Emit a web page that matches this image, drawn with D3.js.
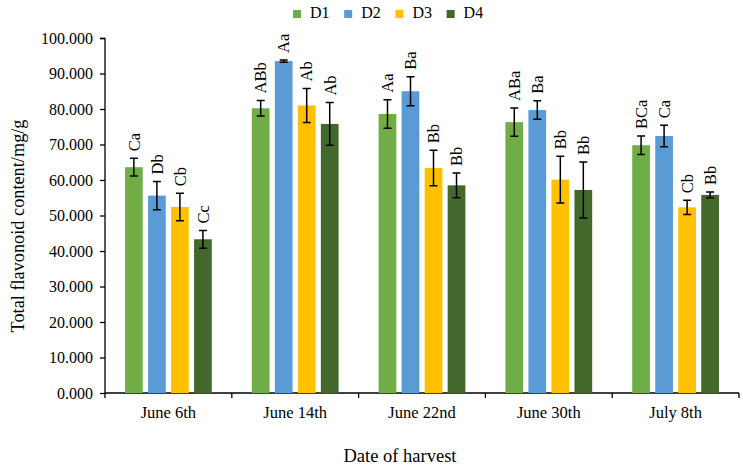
<!DOCTYPE html>
<html lang="en">
<head>
  <meta charset="UTF-8">
  <title>Total flavonoid content</title>
  <style>
    body { margin: 0; background: #fff; }
  </style>
</head>
<body>
  <svg width="743" height="471"></svg>
  <script src="https://d3js.org/d3.v7.min.js"></script>
  <script>
    // harvest dates and treatments
    var dates = ["June 6th", "June 14th", "June 22nd", "June 30th", "July 8th"];
    var series = ["D1", "D2", "D3", "D4"];
    var colors = ["#70ad47", "#5b9bd5", "#ffc000", "#43682b"];

    // means per series (one value per date)
    var D1 = [63.6, 80.2, 78.6, 76.3, 69.8];
    var D2 = [55.6, 93.5, 85.0, 79.7, 72.4];
    var D3 = [52.4, 81.0, 63.4, 60.1, 52.3];
    var D4 = [43.3, 75.8, 58.5, 57.2, 55.8];

    // error bar half widths
    var D1err = [2.5, 2.2, 4.0, 4.0, 2.6];
    var D2err = [4.0, 0.3, 4.1, 2.6, 3.0];
    var D3err = [3.9, 4.8, 5.0, 6.6, 2.0];
    var D4err = [2.5, 6.0, 3.5, 7.9, 0.8];

    // significance letters
    var D1lab = ["Ca", "ABb", "Aa", "ABa", "BCa"];
    var D2lab = ["Db", "Aa", "Ba", "Ba", "Ca"];
    var D3lab = ["Cb", "Ab", "Bb", "Bb", "Cb"];
    var D4lab = ["Cc", "Ab", "Bb", "Bb", "Bb"];

    var yTicks = [0, 10, 20, 30, 40, 50, 60, 70, 80, 90, 100];

    var vals = [D1, D2, D3, D4], errs = [D1err, D2err, D3err, D4err], labs = [D1lab, D2lab, D3lab, D4lab];
    var FONT = "Liberation Serif";

    var rows = [];
    dates.forEach(function(d, i) {
      series.forEach(function(s, j) {
        rows.push({date: d, key: s, value: vals[j][i], err: errs[j][i], label: labs[j][i]});
      });
    });

    var svg = d3.select("svg").attr("font-family", FONT),
        margin = {top: 38, right: 4, bottom: 78, left: 105},
        width = +svg.attr("width") - margin.left - margin.right,
        height = +svg.attr("height") - margin.top - margin.bottom;

    var g = svg.append("g").attr("transform", "translate(" + margin.left + "," + margin.top + ")");

    var x0 = d3.scaleBand().domain(dates).range([0, width]).paddingInner(0).paddingOuter(0);
    var x1 = d3.scaleBand().domain(series).range([0, x0.bandwidth()]).paddingInner(0.23).paddingOuter(0.87);
    var y = d3.scaleLinear().domain([0, 100]).range([height, 0]);
    var z = d3.scaleOrdinal().domain(series).range(colors);

    // y axis
    var yAxis = g.append("g")
      .call(d3.axisLeft(y).tickValues(yTicks).tickSize(5).tickPadding(7).tickFormat(d3.format(".3f")));
    yAxis.attr("font-family", FONT).attr("font-size", 16);
    yAxis.selectAll("text").attr("fill", "#000");
    yAxis.selectAll("line, path").attr("stroke", "#000").attr("stroke-width", 1.3);
    yAxis.select(".domain").attr("d", "M-5,0.5H0V" + height);

    // x axis, ticks at category boundaries
    var xg = g.append("g").attr("transform", "translate(0," + height + ")");
    xg.append("line").attr("x1", 0).attr("x2", width).attr("stroke", "#000").attr("stroke-width", 1.3);
    xg.selectAll(".xtick")
      .data(dates.concat(["end"]))
      .enter().append("line")
      .attr("class", "xtick")
      .attr("x1", function(d, i) { return i < dates.length ? x0(d) : width; })
      .attr("x2", function(d, i) { return i < dates.length ? x0(d) : width; })
      .attr("y1", 0).attr("y2", 5)
      .attr("stroke", "#000").attr("stroke-width", 1.3);
    xg.selectAll(".xlab")
      .data(dates)
      .enter().append("text")
      .attr("class", "xlab")
      .attr("x", function(d) { return x0(d) + x0.bandwidth() / 2; })
      .attr("y", 25)
      .attr("text-anchor", "middle")
      .attr("font-size", 16.5)
      .text(function(d) { return d; });

    // bars
    var bar = g.selectAll(".bar")
      .data(rows)
      .enter().append("g")
      .attr("class", "bar")
      .attr("transform", function(d) { return "translate(" + (x0(d.date) + x1(d.key)) + ",0)"; });

    bar.append("rect")
      .attr("y", function(d) { return y(d.value); })
      .attr("width", x1.bandwidth())
      .attr("height", function(d) { return height - y(d.value); })
      .attr("fill", function(d) { return z(d.key); });

    var cx = x1.bandwidth() / 2;
    bar.append("path")
      .attr("d", function(d) {
        var t = y(d.value + d.err), b = y(d.value - d.err);
        return "M" + cx + "," + t + "V" + b + "M" + (cx - 4) + "," + t + "H" + (cx + 4) + "M" + (cx - 4) + "," + b + "H" + (cx + 4);
      })
      .attr("stroke", "#000").attr("stroke-width", 1.5).attr("fill", "none");

    bar.append("text")
      .attr("transform", function(d) { return "translate(" + cx + "," + (y(d.value + d.err) - 7) + ") rotate(-90)"; })
      .attr("dy", "0.35em")
      .attr("font-size", 16.5)
      .text(function(d) { return d.label; });

    // axis titles
    svg.append("text")
      .attr("x", 400)
      .attr("y", 462)
      .attr("text-anchor", "middle")
      .attr("font-size", 18.5)
      .text("Date of harvest");

    svg.append("text")
      .attr("transform", "translate(24," + (margin.top + 188) + ") rotate(-90)")
      .attr("text-anchor", "middle")
      .attr("font-size", 18.3)
      .text("Total flavonoid content/mg/g");

    // legend
    var legend = svg.append("g").attr("transform", "translate(293,0)");
    var item = legend.selectAll(".leg")
      .data(series)
      .enter().append("g")
      .attr("class", "leg")
      .attr("transform", function(d, i) { return "translate(" + (i * 51.2) + ",0)"; });
    item.append("rect").attr("width", 8).attr("height", 8).attr("y", 10).attr("fill", function(d) { return z(d); });
    item.append("text").attr("x", 17).attr("y", 18).attr("font-size", 16).text(function(d) { return d; });
  </script>
</body>
</html>
